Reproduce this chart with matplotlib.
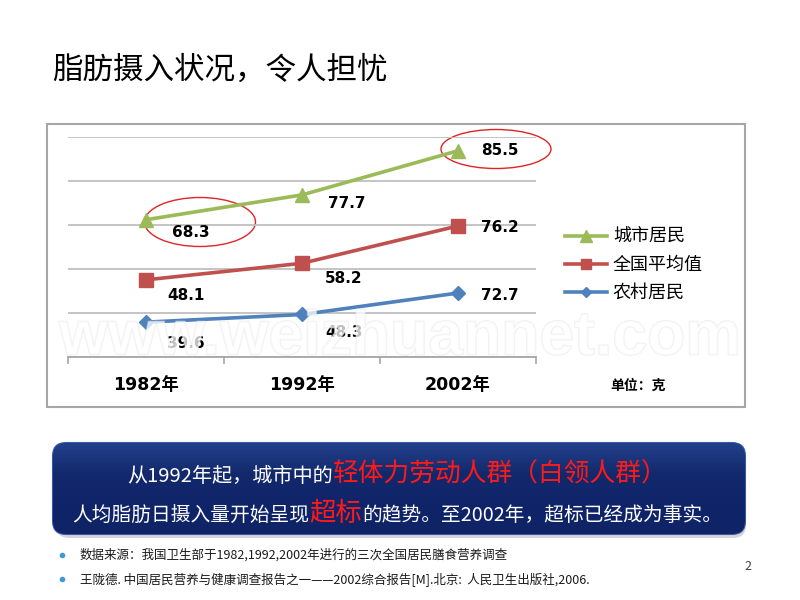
import matplotlib
matplotlib.use("Agg")
import matplotlib.pyplot as plt
import numpy as np
from matplotlib.patches import Rectangle, Ellipse, FancyBboxPatch
from matplotlib.colors import LinearSegmentedColormap
import matplotlib.patheffects as pe

plt.rcParams['font.family'] = ['Noto Sans CJK SC', 'DejaVu Sans']

# ---------------- data ----------------
years = ['1982年', '1992年', '2002年']
series_names = ['城市居民', '全国平均值', '农村居民']
rural = [39.6, 48.3, 72.7]
national = [48.1, 58.2, 76.2]
urban = [68.3, 77.7, 85.5]
unit_label = '单位：克'
title = '脂肪摄入状况，令人担忧'

# stacked line chart (as in the original Excel chart)
rural_c = np.array(rural)
national_c = rural_c + np.array(national)
urban_c = national_c + np.array(urban)

fig = plt.figure(figsize=(8, 6), dpi=100)
fig.patch.set_facecolor('white')

# background overlay axes in pixel coordinates (top-left origin)
bg = fig.add_axes([0, 0, 1, 1], zorder=0)
bg.set_xlim(0, 800)
bg.set_ylim(600, 0)
bg.axis('off')

# title
bg.text(52, 70, title, fontsize=22, va='center', ha='left', color='black')

# chart frame
bg.add_patch(Rectangle((47, 124), 698, 283, facecolor='white', edgecolor='#a6a6a6', lw=1.5))

# ---------------- chart ----------------
ax = fig.add_axes([68 / 800, (600 - 357) / 600, (536 - 68) / 800, (357 - 137) / 600], zorder=2)
ax.patch.set_alpha(0)
ax.set_xlim(-0.5, 2.5)
ax.set_ylim(0, 250)
ax.set_yticks([0, 50, 100, 150, 200, 250])
ax.yaxis.grid(True, color='#bfbfbf', lw=1.3)
ax.tick_params(axis='y', length=0, labelleft=False)
for s in ['left', 'right', 'top']:
    ax.spines[s].set_visible(False)
ax.spines['bottom'].set_color('#a6a6a6')
ax.spines['bottom'].set_linewidth(1.3)
x = np.arange(len(years))
ax.set_xticks(x, labels=years)
ax.set_xticks([-0.5, 0.5, 1.5, 2.5], minor=True)
ax.tick_params(axis='x', which='major', length=0, pad=14)
ax.tick_params(axis='x', which='minor', length=5, color='#a6a6a6', width=1.2)
for lab in ax.get_xticklabels():
    lab.set_fontweight('bold')
    lab.set_fontsize(12.5)
    lab.set_family(['DejaVu Sans', 'Noto Sans CJK SC'])

green, red, blue = '#9BBB59', '#C0504D', '#4F81BD'
l1, = ax.plot(x, urban_c, color=green, lw=2.6, marker='^', ms=10.5, clip_on=False, zorder=3, label=series_names[0])
l2, = ax.plot(x, national_c, color=red, lw=2.6, marker='s', ms=9.5, clip_on=False, zorder=3, label=series_names[1])
l3, = ax.plot(x, rural_c, color=blue, lw=2.6, marker='D', ms=6.8, clip_on=False, zorder=3, label=series_names[2])

offsets = {
    'u': [(45, -13), (45, -9), (42, 0)],
    'n': [(40, -16), (42, -15), (42, -2)],
    'r': [(40, -21), (42, -18), (42, -2)],
}
for key, vals, ys in [('u', urban, urban_c), ('n', national, national_c), ('r', rural, rural_c)]:
    for i, (v, yv) in enumerate(zip(vals, ys)):
        dx, dy = offsets[key][i]
        ax.annotate(f'{v}', (x[i], yv), xytext=(dx, dy), textcoords='offset pixels',
                    ha='center', va='center', fontsize=11, fontweight='bold',
                    family='DejaVu Sans', color='black', annotation_clip=False)

leg = fig.legend(handles=[l1, l2, l3], loc='upper left', bbox_to_anchor=(565 / 800, 1 - 228 / 600),
                 frameon=False, fontsize=13, handlelength=2.3, handletextpad=0.35,
                 labelspacing=0.55, borderpad=0, borderaxespad=0, markerscale=0.8)

bg.text(638, 386, unit_label, fontsize=10, fontweight='bold', ha='center', va='center', color='black')

# red ellipses
for (cx, cy, w, h) in [(200, 222, 111, 49), (496, 149, 110, 39)]:
    bg.add_patch(Ellipse((cx, cy), w, h, facecolor='none', edgecolor='#e02424', lw=1.0, zorder=5))

# watermark
wm = fig.text(400 / 800, 1 - 338 / 600, 'www.weizhuannet.com', fontsize=45, fontweight='bold',
              family='Liberation Sans', ha='center', va='center',
              color='white', alpha=0.5, zorder=10)
wm.set_path_effects([pe.withStroke(linewidth=1.2, foreground='#e4e4e4')])

# ---------------- blue box ----------------
bg.add_patch(FancyBboxPatch((56, 447), 690, 91, boxstyle='round,pad=0,rounding_size=13',
                            facecolor='#b8b8c0', edgecolor='none', alpha=0.6, zorder=1))
box = FancyBboxPatch((53, 443), 692, 91, boxstyle='round,pad=0,rounding_size=13',
                     facecolor='#12276b', edgecolor='#3b58a6', lw=1.5, zorder=2)
bg.add_patch(box)
grad = np.linspace(0, 1, 100).reshape(-1, 1)
cmap = LinearSegmentedColormap.from_list('nb', ['#22408a', '#13296c', '#10246a', '#0f2366'])
im = bg.imshow(grad, extent=(53, 745, 534, 443), cmap=cmap, aspect='auto', zorder=2.5)
im.set_clip_path(box)
bg.set_xlim(0, 800)
bg.set_ylim(600, 0)

renderer = fig.canvas.get_renderer()


def chain(pieces, y_base, center_x):
    texts = []
    xpos = 0
    for s, color, size in pieces:
        t = bg.text(xpos, y_base, s, color=color, fontsize=size, va='baseline', ha='left', zorder=4)
        w = t.get_window_extent(renderer).width
        texts.append((t, xpos))
        xpos += w
    shift = center_x - xpos / 2
    for t, x0 in texts:
        t.set_x(x0 + shift)


chain([('从1992年起，城市中的', 'white', 14.5), ('轻体力劳动人群（白领人群）', '#ff1a1a', 18.5)], 482, 397)
chain([('人均脂肪日摄入量开始呈现', 'white', 14.2), ('超标', '#ff1a1a', 19),
       ('的趋势。至2002年，超标已经成为事实。', 'white', 14.2)], 521, 397)

# footnotes
notes = ['数据来源：我国卫生部于1982,1992,2002年进行的三次全国居民膳食营养调查',
         '王陇德. 中国居民营养与健康调查报告之一——2002综合报告[M].北京:  人民卫生出版社,2006.']
for yy, s in zip([555, 579], notes):
    bg.plot([62], [yy], marker='o', ms=3, color='#3c9ad8', zorder=4)
    bg.text(80, yy, s, fontsize=9, va='center', ha='left', color='#1a1a1a', zorder=4)

bg.text(748, 567, '2', fontsize=9, va='center', ha='center', color='#404040')

fig.savefig('out.png', dpi=100, facecolor='white')
